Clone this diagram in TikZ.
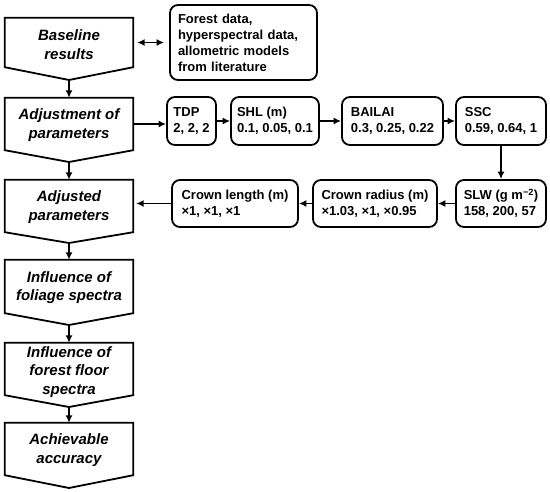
\documentclass[tikz,border=0pt]{standalone}
\usepackage{fontspec}
\setmainfont{Liberation Sans}
\usetikzlibrary{arrows.meta,calc}
\begin{document}
\begin{tikzpicture}[x=1pt,y=-1pt,
  boxline/.style={draw=black,line width=1.8pt,line join=miter},
  shapebox/.style={inner sep=0pt,minimum width=128pt},
  lefttext/.style={align=center,font=\bfseries\itshape\fontsize{15}{18.5}\selectfont,inner sep=0pt},
  rbox/.style={draw,line width=1.8pt,rounded corners=8pt,align=left,font=\bfseries\fontsize{13}{16}\selectfont,inner xsep=6pt,inner ysep=0pt,anchor=center},
  arr/.style={line width=1.7pt,-{Latex[length=7.5pt,width=7pt]}},
  darr/.style={line width=1.7pt,{Latex[length=7.5pt,width=7pt]}-{Latex[length=7.5pt,width=7pt]}},
]
\useasboundingbox (0,0) rectangle (550,491);
% left pentagon boxes: name, top, side bottom, point, text offset, text
\newcommand{\downbox}[6]{%
  \node[shapebox,minimum height={#3-#2}] (#1) at (69,{(#2+#3)/2}) {};
  \coordinate (#1-tip) at (69,#4);
  \draw[boxline] (#1.north west) -- (#1.north east) -- (#1.south east) -- (#1-tip) -- (#1.south west) -- cycle;
  \node[lefttext] (#1-txt) at ($(#1.center)+(0,#5)$) {#6};
}
\downbox{base}{18}{67}{80}{2}{Baseline\\results}
\downbox{adj}{98}{150}{162}{1}{Adjustment of\\parameters}
\downbox{adjd}{180}{232}{243}{1}{Adjusted\\parameters}
\downbox{fol}{260}{313}{325}{1}{Influence of\\foliage spectra}
\downbox{floor}{343}{395}{407}{3}{Influence of\\forest floor\\spectra}
\downbox{ach}{423}{475}{488}{1}{Achievable\\accuracy}

\draw[arr] (base-tip) -- (adj.north);
\draw[arr] (adj-tip) -- (adjd.north);
\draw[arr] (adjd-tip) -- (fol.north);
\draw[arr] (fol-tip) -- (floor.north);
\draw[arr] (floor-tip) -- (ach.north);

% right boxes
\node[rbox,text width=131pt,inner xsep=8pt,minimum height=75pt] (forest) at (243.5,42.5) {Forest data,\\hyperspectral data,\\allometric models\\from literature};
\node[rbox,minimum width=49pt,minimum height=48pt] (tdp) at (191.5,121) {TDP\\2, 2, 2};
\node[rbox,minimum width=84pt,minimum height=48pt] (shl) at (275,121) {SHL (m)\\0.1, 0.05, 0.1};
\node[rbox,minimum width=101pt,minimum height=48pt] (bailai) at (392.5,121) {BAILAI\\0.3, 0.25, 0.22};
\node[rbox,minimum width=90pt,minimum height=48pt] (ssc) at (501,121) {SSC\\0.59, 0.64, 1};
\node[rbox,minimum width=90pt,minimum height=47pt] (slw) at (501,203.5) {SLW (g m\textsuperscript{−2})\\158, 200, 57};
\node[rbox,minimum width=124pt,minimum height=47pt] (crad) at (375,203.5) {Crown radius (m)\\×1.03, ×1, ×0.95};
\node[rbox,minimum width=126pt,minimum height=47pt] (clen) at (235,203.5) {Crown length (m)\\×1, ×1, ×1};

\draw[darr,shorten <=4pt,shorten >=5pt] (base.east |- forest.west) -- (forest.west);
\draw[arr] (adj.east) -- (adj.east -| tdp.west);
\draw[arr] (tdp) -- (shl);
\draw[arr] (shl) -- (bailai);
\draw[arr] (bailai) -- (ssc);
\draw[arr] (ssc) -- (slw);
\draw[arr] (slw) -- (crad);
\draw[arr] (crad) -- (clen);
\draw[arr,shorten >=3pt] (clen.west) -- (clen.west -| adjd.east);
\end{tikzpicture}
\end{document}
